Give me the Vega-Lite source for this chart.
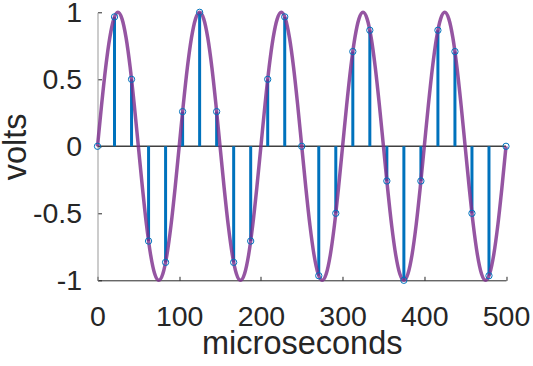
{
  "$schema": "https://vega.github.io/schema/vega-lite/v6.json",
  "width": 408.5,
  "height": 268,
  "autosize": "none",
  "padding": {"left": 97.5, "top": 12.3, "right": 27, "bottom": 86},
  "background": "white",
  "config": {"view": {"stroke": null}, "font": "Liberation Sans"},
  "datasets": {
    "samples": [
      {"t": 0, "v": 0}, {"t": 20.833, "v": 0.9659}, {"t": 41.667, "v": 0.5}, {"t": 62.5, "v": -0.7071},
      {"t": 83.333, "v": -0.866}, {"t": 104.167, "v": 0.2588}, {"t": 125, "v": 1}, {"t": 145.833, "v": 0.2588},
      {"t": 166.667, "v": -0.866}, {"t": 187.5, "v": -0.7071}, {"t": 208.333, "v": 0.5}, {"t": 229.167, "v": 0.9659},
      {"t": 250, "v": 0}, {"t": 270.833, "v": -0.9659}, {"t": 291.667, "v": -0.5}, {"t": 312.5, "v": 0.7071},
      {"t": 333.333, "v": 0.866}, {"t": 354.167, "v": -0.2588}, {"t": 375, "v": -1}, {"t": 395.833, "v": -0.2588},
      {"t": 416.667, "v": 0.866}, {"t": 437.5, "v": 0.7071}, {"t": 458.333, "v": -0.5}, {"t": 479.167, "v": -0.9659},
      {"t": 500, "v": 0}
    ],
    "wave": [
      {"t": 0, "v": 0}, {"t": 5, "v": 0.309}, {"t": 10, "v": 0.588}, {"t": 15, "v": 0.809}, {"t": 20, "v": 0.951},
      {"t": 25, "v": 1}, {"t": 30, "v": 0.951}, {"t": 35, "v": 0.809}, {"t": 40, "v": 0.588}, {"t": 45, "v": 0.309},
      {"t": 50, "v": 0}, {"t": 55, "v": -0.309}, {"t": 60, "v": -0.588}, {"t": 65, "v": -0.809}, {"t": 70, "v": -0.951},
      {"t": 75, "v": -1}, {"t": 80, "v": -0.951}, {"t": 85, "v": -0.809}, {"t": 90, "v": -0.588}, {"t": 95, "v": -0.309},
      {"t": 100, "v": 0}, {"t": 105, "v": 0.309}, {"t": 110, "v": 0.588}, {"t": 115, "v": 0.809}, {"t": 120, "v": 0.951},
      {"t": 125, "v": 1}, {"t": 130, "v": 0.951}, {"t": 135, "v": 0.809}, {"t": 140, "v": 0.588}, {"t": 145, "v": 0.309},
      {"t": 150, "v": 0}, {"t": 155, "v": -0.309}, {"t": 160, "v": -0.588}, {"t": 165, "v": -0.809}, {"t": 170, "v": -0.951},
      {"t": 175, "v": -1}, {"t": 180, "v": -0.951}, {"t": 185, "v": -0.809}, {"t": 190, "v": -0.588}, {"t": 195, "v": -0.309},
      {"t": 200, "v": 0}, {"t": 205, "v": 0.309}, {"t": 210, "v": 0.588}, {"t": 215, "v": 0.809}, {"t": 220, "v": 0.951},
      {"t": 225, "v": 1}, {"t": 230, "v": 0.951}, {"t": 235, "v": 0.809}, {"t": 240, "v": 0.588}, {"t": 245, "v": 0.309},
      {"t": 250, "v": 0}, {"t": 255, "v": -0.309}, {"t": 260, "v": -0.588}, {"t": 265, "v": -0.809}, {"t": 270, "v": -0.951},
      {"t": 275, "v": -1}, {"t": 280, "v": -0.951}, {"t": 285, "v": -0.809}, {"t": 290, "v": -0.588}, {"t": 295, "v": -0.309},
      {"t": 300, "v": 0}, {"t": 305, "v": 0.309}, {"t": 310, "v": 0.588}, {"t": 315, "v": 0.809}, {"t": 320, "v": 0.951},
      {"t": 325, "v": 1}, {"t": 330, "v": 0.951}, {"t": 335, "v": 0.809}, {"t": 340, "v": 0.588}, {"t": 345, "v": 0.309},
      {"t": 350, "v": 0}, {"t": 355, "v": -0.309}, {"t": 360, "v": -0.588}, {"t": 365, "v": -0.809}, {"t": 370, "v": -0.951},
      {"t": 375, "v": -1}, {"t": 380, "v": -0.951}, {"t": 385, "v": -0.809}, {"t": 390, "v": -0.588}, {"t": 395, "v": -0.309},
      {"t": 400, "v": 0}, {"t": 405, "v": 0.309}, {"t": 410, "v": 0.588}, {"t": 415, "v": 0.809}, {"t": 420, "v": 0.951},
      {"t": 425, "v": 1}, {"t": 430, "v": 0.951}, {"t": 435, "v": 0.809}, {"t": 440, "v": 0.588}, {"t": 445, "v": 0.309},
      {"t": 450, "v": 0}, {"t": 455, "v": -0.309}, {"t": 460, "v": -0.588}, {"t": 465, "v": -0.809}, {"t": 470, "v": -0.951},
      {"t": 475, "v": -1}, {"t": 480, "v": -0.951}, {"t": 485, "v": -0.809}, {"t": 490, "v": -0.588}, {"t": 495, "v": -0.309},
      {"t": 500, "v": 0}
    ]
  },
  "encoding": {
    "x": {
      "field": "t", "type": "quantitative",
      "scale": {"domain": [0, 500], "nice": false, "zero": false},
      "axis": {
        "values": [0, 100, 200, 300, 400, 500],
        "title": "microseconds",
        "grid": false,
        "labelFontSize": 28.5, "titleFontSize": 32.5, "titleFontWeight": "normal",
        "labelColor": "#262626", "titleColor": "#262626",
        "domainColor": "#262626", "domainWidth": 1,
        "tickColor": "#262626", "tickSize": -4,
        "labelPadding": 26, "labelFlush": false, "labelOverlap": false, "labelBound": false,
        "titleY": 73, "titleBaseline": "alphabetic", "titleAnchor": "middle"
      }
    },
    "y": {
      "field": "v", "type": "quantitative",
      "scale": {"domain": [-1, 1], "nice": false, "zero": false},
      "axis": {
        "values": [-1, -0.5, 0, 0.5, 1],
        "labelExpr": "datum.value + ''",
        "title": "volts",
        "grid": false,
        "labelFontSize": 28.5, "titleFontSize": 32.5, "titleFontWeight": "normal",
        "labelColor": "#262626", "titleColor": "#262626",
        "domainColor": "#999999", "domainWidth": 1,
        "tickColor": "#262626", "tickSize": -4,
        "labelPadding": 20, "labelFlush": false, "labelOverlap": false, "labelBound": false,
        "titleX": -72.5, "titleY": 134, "titleAngle": -90, "titleBaseline": "alphabetic", "titleAlign": "center"
      }
    }
  },
  "layer": [
    {
      "data": {"values": [{"t": 0, "v": 0, "t2": 500}]},
      "mark": {"type": "rule", "color": "#404040", "strokeWidth": 1.5},
      "encoding": {"x2": {"field": "t2"}}
    },
    {
      "data": {"name": "samples"},
      "mark": {"type": "rule", "color": "#0072BD", "strokeWidth": 3},
      "encoding": {"y2": {"datum": 0}}
    },
    {
      "data": {"name": "wave"},
      "mark": {"type": "line", "color": "#7E2F8E", "strokeWidth": 3.5, "opacity": 0.82, "interpolate": "monotone"}
    },
    {
      "data": {"name": "samples"},
      "mark": {"type": "point", "shape": "circle", "filled": false, "color": "#0072BD", "size": 40, "strokeWidth": 1, "opacity": 1}
    }
  ]
}
